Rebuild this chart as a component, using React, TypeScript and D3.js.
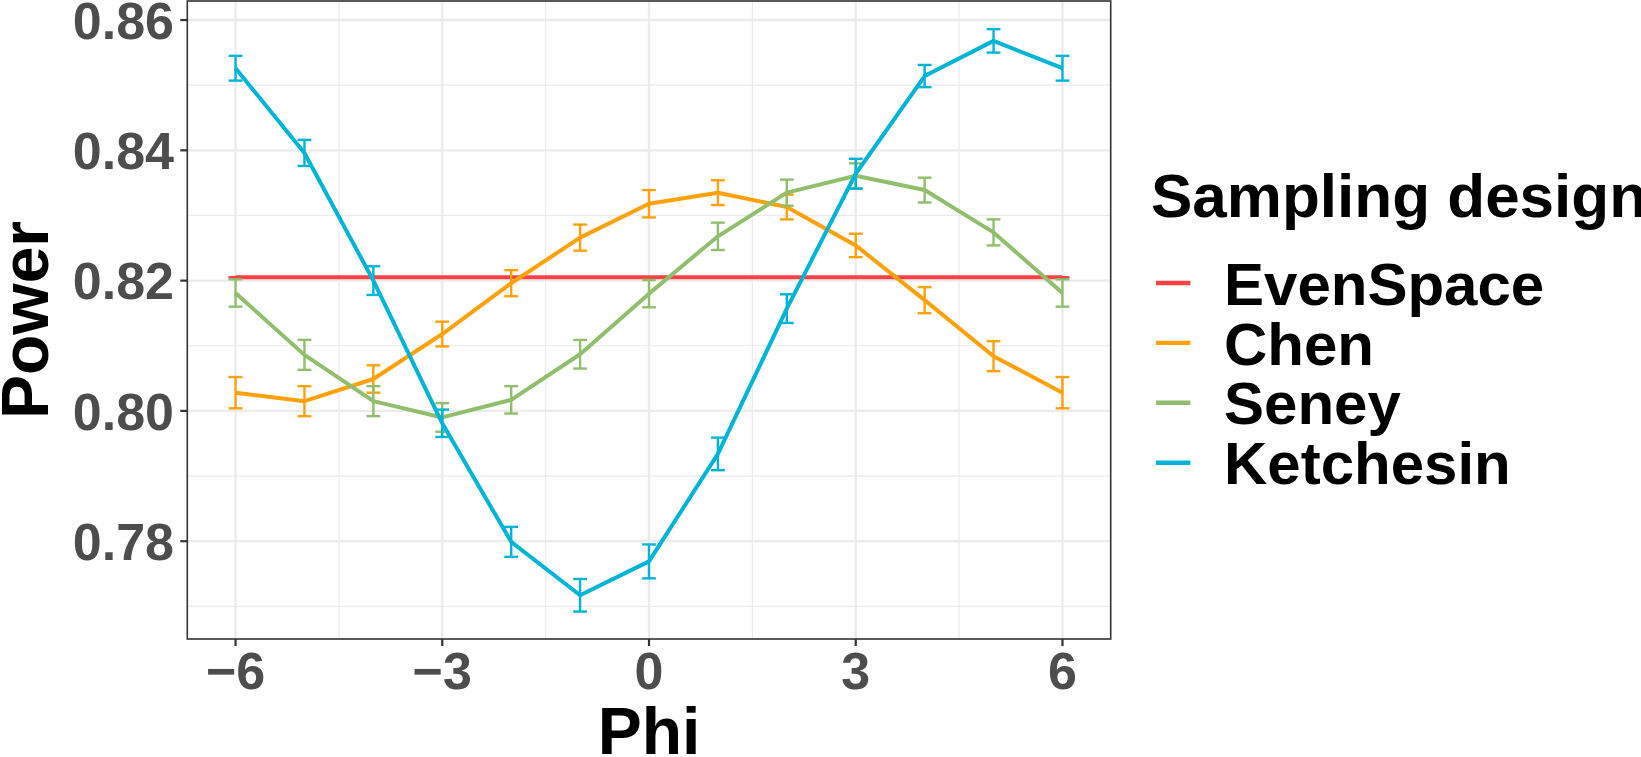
import React from "react";
import * as d3 from "d3";

const phi = [-6, -5, -4, -3, -2, -1, 0, 1, 2, 3, 4, 5, 6];
const seriesNames = ["EvenSpace", "Chen", "Seney", "Ketchesin"];
const seriesColors = ["#F94144", "#FFA10A", "#90BE6D", "#00B4D8"];

const evenSpace = [0.8205, 0.8205, 0.8205, 0.8205, 0.8205, 0.8205, 0.8205, 0.8205, 0.8205, 0.8205, 0.8205, 0.8205, 0.8205];
const evenSpaceErr = [0, 0, 0, 0, 0, 0, 0, 0, 0, 0, 0, 0, 0];
const chen = [0.8028, 0.8015, 0.8049, 0.8118, 0.8196, 0.8266, 0.8318, 0.8335, 0.8313, 0.8254, 0.817, 0.8084, 0.8028];
const chenErr = [0.0024, 0.0023, 0.0021, 0.0019, 0.002, 0.002, 0.0021, 0.0019, 0.0019, 0.0018, 0.002, 0.0023, 0.0024];
const seney = [0.8181, 0.8086, 0.8015, 0.799, 0.8017, 0.8087, 0.818, 0.8268, 0.8335, 0.8361, 0.8339, 0.8274, 0.8181];
const seneyErr = [0.0021, 0.0023, 0.0023, 0.0022, 0.0021, 0.0022, 0.0021, 0.0021, 0.002, 0.0019, 0.0019, 0.002, 0.0021];
const ketchesin = [0.8526, 0.8396, 0.82, 0.7981, 0.7799, 0.7717, 0.7769, 0.7934, 0.8157, 0.8364, 0.8514, 0.8568, 0.8526];
const ketchesinErr = [0.0019, 0.002, 0.0022, 0.0021, 0.0023, 0.0025, 0.0026, 0.0025, 0.0022, 0.0023, 0.0017, 0.0018, 0.0019];

const xTicks = [-6, -3, 0, 3, 6];
const xMinor = [-4.5, -1.5, 1.5, 4.5];
const yTicks = [0.78, 0.8, 0.82, 0.84, 0.86];
const yMinor = [0.77, 0.79, 0.81, 0.83, 0.85];

const allValues = [evenSpace, chen, seney, ketchesin];
const allErr = [evenSpaceErr, chenErr, seneyErr, ketchesinErr];

const W = 1641;
const H = 757;
const panel = { left: 187.3, right: 1110.7, top: 1, bottom: 639 };
const FONT = "'Liberation Sans', Arial, Helvetica, sans-serif";

export default function App() {
  const x = d3.scaleLinear().domain([-6.7, 6.7]).range([panel.left, panel.right]);
  const y = d3.scaleLinear().domain([0.76499, 0.86292]).range([panel.bottom, panel.top]);
  const line = d3
    .line<number>()
    .x((_, i) => x(phi[i]))
    .y((d) => y(d));
  const capHalf = x(0.1) - x(0);

  return (
    <svg
      width={W}
      height={H}
      style={{ position: "absolute", left: 0, top: 0, background: "#fff" }}
      fontFamily={FONT}
    >
      <rect x={0} y={0} width={W} height={H} fill="#fff" />
      {/* grid */}
      {yMinor.map((v) => (
        <line key={"ym" + v} x1={panel.left} x2={panel.right} y1={y(v)} y2={y(v)} stroke="#EBEBEB" strokeWidth={1.2} />
      ))}
      {xMinor.map((v) => (
        <line key={"xm" + v} y1={panel.top} y2={panel.bottom} x1={x(v)} x2={x(v)} stroke="#EBEBEB" strokeWidth={1.2} />
      ))}
      {yTicks.map((v) => (
        <line key={"yM" + v} x1={panel.left} x2={panel.right} y1={y(v)} y2={y(v)} stroke="#EBEBEB" strokeWidth={2.3} />
      ))}
      {xTicks.map((v) => (
        <line key={"xM" + v} y1={panel.top} y2={panel.bottom} x1={x(v)} x2={x(v)} stroke="#EBEBEB" strokeWidth={2.3} />
      ))}
      {/* series */}
      {allValues.map((vals, s) => (
        <g key={seriesNames[s]}>
          <path d={line(vals) || ""} fill="none" stroke={seriesColors[s]} strokeWidth={4} strokeLinejoin="round" />
          {vals.map((v, i) => {
            const e = allErr[s][i];
            const cx = x(phi[i]);
            return (
              <g key={i} stroke={seriesColors[s]} strokeWidth={2.4} fill="none">
                <line x1={cx} x2={cx} y1={y(v - e)} y2={y(v + e)} />
                <line x1={cx - capHalf} x2={cx + capHalf} y1={y(v + e)} y2={y(v + e)} />
                <line x1={cx - capHalf} x2={cx + capHalf} y1={y(v - e)} y2={y(v - e)} />
              </g>
            );
          })}
        </g>
      ))}
      {/* panel border */}
      <rect
        x={panel.left}
        y={panel.top}
        width={panel.right - panel.left}
        height={panel.bottom - panel.top}
        fill="none"
        stroke="#333333"
        strokeWidth={1.6}
      />
      {/* y axis ticks */}
      {yTicks.map((v) => (
        <g key={"yt" + v}>
          <line x1={panel.left - 7} x2={panel.left} y1={y(v)} y2={y(v)} stroke="#333333" strokeWidth={2.2} />
          <text
            x={174}
            y={y(v)}
            dy="0.36em"
            textAnchor="end"
            fontSize={52}
            fontWeight="bold"
            fill="#4D4D4D"
          >
            {d3.format(".2f")(v)}
          </text>
        </g>
      ))}
      {/* x axis ticks */}
      {xTicks.map((v) => (
        <g key={"xt" + v}>
          <line x1={x(v)} x2={x(v)} y1={panel.bottom} y2={panel.bottom + 7} stroke="#333333" strokeWidth={2.2} />
          <text x={x(v)} y={689} textAnchor="middle" fontSize={52} fontWeight="bold" fill="#4D4D4D">
            {v < 0 ? "\u2212" + Math.abs(v) : String(v)}
          </text>
        </g>
      ))}
      {/* axis titles */}
      <text x={(panel.left + panel.right) / 2} y={754} textAnchor="middle" fontSize={66} fontWeight="bold" fill="#000">
        Phi
      </text>
      <text
        transform={`translate(48, ${(panel.top + panel.bottom) / 2}) rotate(-90)`}
        textAnchor="middle"
        fontSize={66}
        fontWeight="bold"
        fill="#000"
      >
        Power
      </text>
      {/* legend */}
      <text x={1151} y={217} fontSize={62} fontWeight="bold" fill="#000">
        Sampling design
      </text>
      {seriesNames.map((name, i) => {
        const cy = 283 + i * 59.9;
        return (
          <g key={"lg" + name}>
            <line x1={1156} x2={1190.4} y1={cy} y2={cy} stroke={seriesColors[i]} strokeWidth={4.4} />
            <text x={1224} y={cy} dy="0.36em" fontSize={60} fontWeight="bold" fill="#000">
              {name}
            </text>
          </g>
        );
      })}
    </svg>
  );
}
